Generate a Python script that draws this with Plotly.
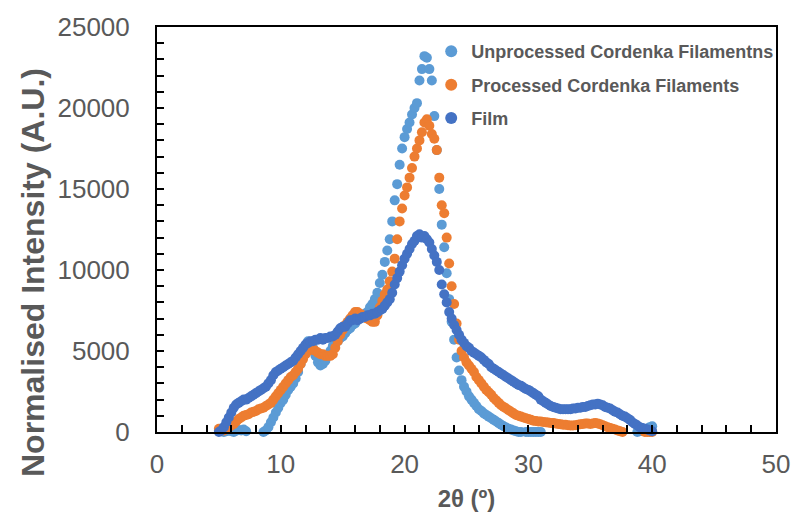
import plotly.graph_objects as go

two_theta = [
    5.0, 5.2, 5.4, 5.6, 5.8, 6.0, 6.2, 6.4, 6.6, 6.8,
    7.0, 7.2, 7.4, 7.6, 7.8, 8.0, 8.2, 8.4, 8.6, 8.8,
    9.0, 9.2, 9.4, 9.6, 9.8, 10.0, 10.2, 10.4, 10.6, 10.8,
    11.0, 11.2, 11.4, 11.6, 11.8, 12.0, 12.2, 12.4, 12.6, 12.8,
    13.0, 13.2, 13.4, 13.6, 13.8, 14.0, 14.2, 14.4, 14.6, 14.8,
    15.0, 15.2, 15.4, 15.6, 15.8, 16.0, 16.2, 16.4, 16.6, 16.8,
    17.0, 17.2, 17.4, 17.6, 17.8, 18.0, 18.2, 18.4, 18.6, 18.8,
    19.0, 19.2, 19.4, 19.6, 19.8, 20.0, 20.2, 20.4, 20.6, 20.8,
    21.0, 21.2, 21.4, 21.6, 21.8, 22.0, 22.2, 22.4, 22.6, 22.8,
    23.0, 23.2, 23.4, 23.6, 23.8, 24.0, 24.2, 24.4, 24.6, 24.8,
    25.0, 25.2, 25.4, 25.6, 25.8, 26.0, 26.2, 26.4, 26.6, 26.8,
    27.0, 27.2, 27.4, 27.6, 27.8, 28.0, 28.2, 28.4, 28.6, 28.8,
    29.0, 29.2, 29.4, 29.6, 29.8, 30.0, 30.2, 30.4, 30.6, 30.8,
    31.0, 31.2, 31.4, 31.6, 31.8, 32.0, 32.2, 32.4, 32.6, 32.8,
    33.0, 33.2, 33.4, 33.6, 33.8, 34.0, 34.2, 34.4, 34.6, 34.8,
    35.0, 35.2, 35.4, 35.6, 35.8, 36.0, 36.2, 36.4, 36.6, 36.8,
    37.0, 37.2, 37.4, 37.6, 37.8, 38.0, 38.2, 38.4, 38.6, 38.8,
    39.0, 39.2, 39.4, 39.6, 39.8, 40.0,
]

unprocessed = [
    100, 50, 0, 50, 100, 50, 0, 80, 120, 100,
    150, 50, -50, -100, -150, -100, -150, -100, 0, 100,
    300, 600, 900, 1200, 1500, 1800, 2000, 2300, 2600, 2800,
    3000, 3300, 3700, 4200, 4800, 5300, 5600, 5500, 5200, 4700,
    4300, 4100, 4200, 4400, 4700, 5000, 5300, 5500, 5600, 5800,
    5900, 6100, 6300, 6400, 6600, 6700, 6900, 7000, 7100, 7300,
    7400, 7700, 7900, 8200, 8600, 9200, 9700, 10500, 11200, 11900,
    13000, 14300, 15300, 16500, 17500, 18200, 18700, 19100, 19600, 20000,
    20300, 21700, 22400, 23200, 23100, 22400, 21700, 19500, 17400, 15000,
    12800, 11400, 9800, 8200, 6800, 5700, 4600, 3800, 3200, 2800,
    2500, 2200, 2000, 1800, 1600, 1400, 1300, 1150, 1050, 950,
    850, 750, 650, 550, 450, 350, 280, 200, 150, 100,
    50, 0, 0, -20, 0, 0, 0, 0, 0, 0,
    0, -50, -100, -150, -200, -200, -200, -200, -200, -200,
    -150, -150, -150, -150, -100, -100, -100, -100, -100, -100,
    -100, -100, -100, -100, -100, -150, -150, -150, -150, -150,
    -150, -150, -150, -150, -100, -100, -100, -100, -50, 0,
    50, 100, 150, 200, 300, 350,
]

processed = [
    200, 150, 100, 200, 300, 400, 500, 650, 800, 900,
    1000, 1050, 1100, 1200, 1250, 1300, 1400, 1450, 1500, 1600,
    1700, 1800, 2000, 2200, 2400, 2600, 2800, 3000, 3200, 3400,
    3500, 3700, 3900, 4200, 4500, 4800, 5000, 5100, 5100, 5000,
    4900, 4800, 4800, 4700, 4700, 4700, 4800, 5200, 5600, 6000,
    6300, 6600, 6800, 7000, 7200, 7400, 7400, 7300, 7200, 7100,
    7000, 6900, 6800, 6800, 7200, 7700, 8100, 8500, 8800, 9300,
    9900, 10700, 11900, 13000, 13800, 14600, 15100, 15700, 16300, 17000,
    17500, 18000, 18500, 19100, 19300, 18900, 18400, 18100, 17400, 15700,
    14000, 13500, 12000, 10400, 9000, 7900, 6700, 5700, 5000, 4600,
    4300, 4100, 3900, 3700, 3400, 3200, 3000, 2800, 2600, 2450,
    2300, 2100, 1950, 1800, 1650, 1550, 1450, 1350, 1250, 1150,
    1050, 1000, 950, 900, 850, 800, 750, 700, 680, 650,
    650, 620, 600, 580, 560, 550, 520, 500, 480, 450,
    450, 420, 400, 400, 420, 450, 480, 500, 520, 530,
    500, 520, 550, 520, 480, 420, 350, 300, 250, 200,
    150, 100, 50, 0, -50, -50, -50, -50, -50, -50,
    -50, -50, 0, 0, 0, 0,
]

film = [
    0, 100, 300, 600, 900, 1200, 1500, 1700, 1800, 1900,
    2000, 2000, 2100, 2200, 2300, 2400, 2500, 2600, 2700, 2800,
    3000, 3200, 3500, 3700, 3800, 3900, 4000, 4100, 4200, 4300,
    4400, 4600, 4800, 5000, 5200, 5400, 5500, 5600, 5600, 5700,
    5700, 5800, 5700, 5800, 5800, 5900, 5900, 6000, 6200, 6400,
    6500, 6500, 6700, 6900, 6900, 7000, 6900, 7000, 7100, 7100,
    7200, 7200, 7300, 7300, 7400, 7500, 7600, 7800, 8000, 8200,
    8600, 9100, 9500, 9900, 10300, 10700, 11000, 11300, 11600, 11800,
    12100, 12200, 12000, 12100, 11900, 11700, 11300, 10900, 10500, 10000,
    9100, 8500, 8000, 7400, 7000, 6600, 6300, 6000, 5700, 5500,
    5300, 5200, 5000, 4900, 4800, 4700, 4600, 4450, 4300, 4200,
    4000, 3900, 3800, 3700, 3600, 3500, 3400, 3300, 3200, 3100,
    3000, 2900, 2850, 2750, 2650, 2600, 2500, 2400, 2300, 2200,
    2000, 1900, 1800, 1700, 1600, 1550, 1500, 1450, 1400, 1400,
    1400, 1400, 1400, 1450, 1450, 1500, 1500, 1550, 1550, 1600,
    1650, 1700, 1700, 1750, 1700, 1650, 1550, 1500, 1450, 1350,
    1250, 1200, 1100, 1000, 950, 850, 750, 600, 500, 400,
    300, 250, 200, 150, 100, 50,
]

series_names = ["Unprocessed Cordenka Filamentns", "Processed Cordenka Filaments", "Film"]
series_values = [unprocessed, processed, film]
series_colors = ["#5B9BD5", "#ED7D31", "#4472C4"]
x_title = "2θ (º)"
y_title = "Normalised Intensity (A.U.)"

fig = go.Figure()
for i, (name, vals, col) in enumerate(zip(series_names, series_values, series_colors)):
    fig.add_trace(go.Scatter(
        x=two_theta, y=vals, mode="markers", name=name,
        legendgroup=f"g{i}",
        marker=dict(color=col, size=10, line=dict(width=0)),
        cliponaxis=False,
    ))

grey = "#595959"
fontfam = "Liberation Sans, Arial, sans-serif"
fig.update_layout(
    width=802, height=520,
    margin=dict(l=157, r=22, t=25, b=87),
    paper_bgcolor="white", plot_bgcolor="white",
    font=dict(family=fontfam, color=grey),
    showlegend=True,
    legend=dict(
        x=0.443, y=0.985, xanchor="left", yanchor="top",
        bgcolor="rgba(0,0,0,0)", itemsizing="constant",
        font=dict(size=18, color=grey, family=fontfam, weight="bold"),
        tracegroupgap=7, itemwidth=30,
    ),
    xaxis=dict(
        range=[0, 50], dtick=10, tick0=0,
        showgrid=False, zeroline=False,
        showline=True, linecolor="black", linewidth=2, mirror=True,
        ticks="inside", ticklen=7, tickcolor="black", tickwidth=1.5,
        minor=dict(dtick=2, ticks="inside", ticklen=7, tickcolor="black", tickwidth=1.5, showgrid=False),
        tickfont=dict(size=26, color=grey),
        ticklabelstandoff=8,
        title=dict(text=x_title, font=dict(size=24, color=grey, weight="bold"), standoff=12),
    ),
    yaxis=dict(
        range=[0, 25000], dtick=5000, tick0=0, tickformat="d",
        showgrid=False, zeroline=False,
        showline=True, linecolor="black", linewidth=2, mirror=True,
        ticks="inside", ticklen=7, tickcolor="black", tickwidth=1.5,
        minor=dict(dtick=1000, ticks="inside", ticklen=7, tickcolor="black", tickwidth=1.5, showgrid=False),
        tickfont=dict(size=26, color=grey),
        ticklabelstandoff=20,
    ),
    annotations=[dict(
        text=y_title, textangle=-90, showarrow=False,
        xref="paper", yref="paper",
        x=(32 - 157) / 623, y=(433 - 272) / 408,
        xanchor="center", yanchor="middle",
        font=dict(size=32, color=grey, family=fontfam, weight="bold"),
    )],
)

fig.write_html("out.html")
